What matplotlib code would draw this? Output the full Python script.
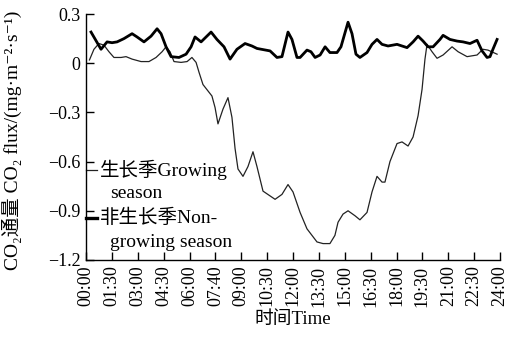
"""Diurnal CO2 flux over 24 h: growing vs. non-growing season.

Writes out.png.
"""

import matplotlib
matplotlib.use("Agg")
import matplotlib.pyplot as plt

OUT_PNG = "out.png"

FONTS = ["Liberation Serif", "Noto Sans CJK SC", "DejaVu Serif"]

# growing season, hour of day -> flux (mg m-2 s-1)
GROW_HOURS = [0.20, 0.46, 0.75, 1.04, 1.33, 1.62, 2.03, 2.32, 2.67, 3.19,
              3.65, 4.06, 4.41, 4.64, 4.87, 5.10, 5.51, 5.86, 6.14, 6.38,
              6.55, 6.78, 7.30, 7.48, 7.65, 7.94, 8.23, 8.46, 8.64, 8.81,
              9.10, 9.39, 9.68, 9.91, 10.26, 10.96, 11.36, 11.71, 12.00, 12.41,
              12.81, 13.39, 13.74, 14.14, 14.43, 14.61, 14.90, 15.19, 15.59,
              15.88, 16.29, 16.58, 16.87, 17.16, 17.33, 17.62, 18.03, 18.32,
              18.67, 18.96, 19.25, 19.48, 19.65, 19.77, 20.06, 20.35, 20.70,
              21.22, 21.57, 22.09, 22.67, 23.01, 23.30, 23.83]
GROW_FLUX = [0.02, 0.085, 0.12, 0.11, 0.07, 0.035, 0.035, 0.04, 0.025, 0.01,
             0.01, 0.035, 0.07, 0.10, 0.07, 0.01, 0.005, 0.01, 0.035, 0.005,
             -0.055, -0.13, -0.20, -0.27, -0.37, -0.28, -0.21, -0.33, -0.52, -0.645,
             -0.69, -0.63, -0.54, -0.63, -0.78, -0.83, -0.80, -0.74, -0.785, -0.91,
             -1.01, -1.09, -1.10, -1.10, -1.05, -0.97, -0.92, -0.90, -0.93,
             -0.955, -0.91, -0.785, -0.69, -0.725, -0.725, -0.60, -0.49, -0.48,
             -0.505, -0.45, -0.32, -0.16, 0.025, 0.115, 0.07, 0.03, 0.05,
             0.10, 0.07, 0.04, 0.05, 0.085, 0.08, 0.055]

# non-growing season
NONGROW_HOURS = [0.29, 0.87, 1.22, 1.51, 1.80, 2.20, 2.67, 2.96, 3.36, 3.77,
                 4.12, 4.35, 4.64, 4.93, 5.39, 5.80, 6.09, 6.32, 6.67, 6.96,
                 7.25, 7.59, 8.00, 8.35, 8.75, 9.22, 9.62, 9.91, 10.67, 11.07,
                 11.36, 11.71, 11.94, 12.23, 12.41, 12.81, 13.04, 13.28, 13.57,
                 13.86, 14.14, 14.55, 14.78, 15.19, 15.42, 15.65, 15.88, 16.29,
                 16.58, 16.87, 17.16, 17.51, 18.03, 18.61, 18.96, 19.25, 19.54,
                 19.83, 20.12, 20.52, 20.70, 21.10, 21.51, 21.86, 22.26, 22.67,
                 22.96, 23.25, 23.42, 23.59, 23.83]
NONGROW_FLUX = [0.19, 0.085, 0.13, 0.125, 0.13, 0.15, 0.18, 0.16, 0.13, 0.165,
                0.21, 0.18, 0.10, 0.04, 0.035, 0.055, 0.10, 0.16, 0.13, 0.16,
                0.19, 0.145, 0.10, 0.025, 0.085, 0.12, 0.105, 0.09, 0.075, 0.035,
                0.04, 0.19, 0.145, 0.035, 0.035, 0.08, 0.07, 0.035, 0.05,
                0.10, 0.065, 0.065, 0.10, 0.25, 0.18, 0.055, 0.035, 0.065,
                0.115, 0.145, 0.115, 0.105, 0.115, 0.095, 0.13, 0.165, 0.135,
                0.10, 0.10, 0.145, 0.17, 0.145, 0.135, 0.13, 0.12, 0.14,
                0.075, 0.035, 0.04, 0.085, 0.145]

X_TICKS = [i * 1.5 for i in range(17)]
X_LABELS = ["00:00", "01:30", "03:00", "04:30", "06:00", "07:40", "09:00",
            "10:30", "12:00", "13:30", "15:00", "16:30", "18:00", "19:30",
            "21:00", "22:30", "24:00"]
Y_TICKS = [0.3, 0.0, -0.3, -0.6, -0.9, -1.2]
Y_LABELS = ["0.3", "0", "\u22120.3", "\u22120.6", "\u22120.9", "\u22121.2"]

# legend rows: (first line, second line)
LEGEND_GROW = ("生长季Growing", "season")
LEGEND_NONGROW = ("非生长季Non-", "growing season")


def main():
    plt.rcParams["font.family"] = FONTS
    plt.rcParams["font.size"] = 13

    fig = plt.figure(figsize=(5.16, 3.46), dpi=100)
    ax = fig.add_axes([0.1667, 0.2486, 0.8023, 0.7109])

    ax.plot(GROW_HOURS, GROW_FLUX, color="#222222", linewidth=0.9,
            solid_joinstyle="round")
    ax.plot(NONGROW_HOURS, NONGROW_FLUX, color="black", linewidth=2.0,
            solid_joinstyle="round")

    ax.set_xlim(0, 24)
    ax.set_ylim(-1.2, 0.3)
    ax.set_xticks(X_TICKS)
    ax.set_xticklabels(X_LABELS, rotation=90)
    ax.set_yticks(Y_TICKS)
    ax.set_yticklabels(Y_LABELS)
    ax.tick_params(direction="in", length=6, width=1, pad=4, labelsize=13)

    for side in ("top", "right"):
        ax.spines[side].set_visible(False)
    for side in ("left", "bottom"):
        ax.spines[side].set_linewidth(1.0)

    ax.set_xlabel("时间Time", fontsize=13.5, labelpad=3)
    ax.set_ylabel("CO\u2082通量 CO\u2082 flux/(mg·m\u207b\u00b2·s\u207b\u00b9)",
                  fontsize=14)
    ax.yaxis.set_label_coords(-0.155, 0.485)

    # hand-placed legend hugging the left spine
    entries = [
        (0.365, 0.272, 0.9, "#222222", LEGEND_GROW),
        (0.17, 0.07, 2.4, "black", LEGEND_NONGROW),
    ]
    for y1, y2, lw, color, (line1, line2) in entries:
        ax.plot([0.0, 0.026], [y1, y1], transform=ax.transAxes, color=color,
                linewidth=lw, clip_on=False)
        ax.text(0.034, y1, line1, transform=ax.transAxes, va="center",
                ha="left", fontsize=14)
        ax.text(0.058, y2, line2, transform=ax.transAxes, va="center",
                ha="left", fontsize=14)

    fig.savefig(OUT_PNG, dpi=100)
    plt.close(fig)


if __name__ == "__main__":
    main()
